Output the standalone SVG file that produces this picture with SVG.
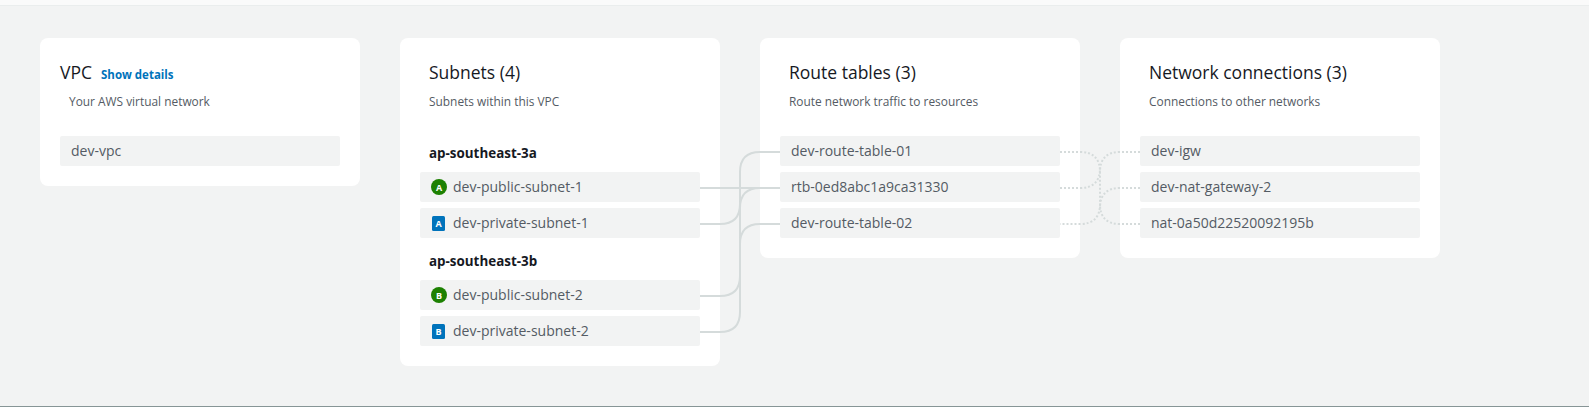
<svg xmlns="http://www.w3.org/2000/svg" width="1589" height="407" viewBox="0 0 1589 407">
<style>
text{font-family:"Open Sans","Noto Sans","Liberation Sans",sans-serif}
.card{fill:#fff}
.row{fill:#f2f3f3}
.title{font-size:17.5px;fill:#16191f}
.sub{font-size:11.9px;fill:#545b64}
.lbl{font-size:14px;fill:#545b64}
.az{font-size:13.4px;font-weight:700;fill:#16191f}
.badge{font-size:9px;font-weight:700;fill:#fff;text-anchor:middle}
.line{fill:none;stroke:#d5dbdb;stroke-width:2}
.dot{fill:none;stroke:#d5dbdb;stroke-width:2;stroke-dasharray:2 2}
</style>
<rect width="1589" height="407" fill="#f2f3f3"/>
<rect width="1589" height="5" fill="#fafafa"/>
<rect y="5" width="1589" height="1" fill="#eaeded"/>
<rect y="406" width="1589" height="1" fill="#879596"/>
<g id="vpc-card">
<rect class="card" x="40" y="38" width="320" height="148" rx="8"/>
<text class="title" x="60" y="79">VPC</text>
<text x="101" y="79" font-size="11.500" font-weight="700" fill="#0073bb">Show details</text>
<text class="sub" x="69" y="106">Your AWS virtual network</text>
</g>
<g id="dev-vpc"><rect class="row" x="60" y="136" width="280" height="30" rx="2"/><text class="lbl" x="71" y="156">dev-vpc</text></g>
<g id="subnets-card">
<rect class="card" x="400" y="38" width="320" height="328" rx="8"/>
<text class="title" x="429" y="79">Subnets (4)</text>
<text class="sub" x="429" y="106">Subnets within this VPC</text>
<text class="az" x="429" y="157.500">ap-southeast-3a</text>
<text class="az" x="429" y="265.500">ap-southeast-3b</text>
</g>
<g id="route-card">
<rect class="card" x="760" y="38" width="320" height="220" rx="8"/>
<text class="title" x="789" y="79">Route tables (3)</text>
<text class="sub" x="789" y="106">Route network traffic to resources</text>
</g>
<g id="network-card">
<rect class="card" x="1120" y="38" width="320" height="220" rx="8"/>
<text class="title" x="1149" y="79">Network connections (3)</text>
<text class="sub" x="1149" y="106">Connections to other networks</text>
</g>
<g id="connectors">
<path class="line" d="M700 188H780"/>
<path class="line" d="M780 152H760Q740 152 740 172V204Q740 224 720 224H700"/>
<path class="line" d="M780 188H760Q740 188 740 208V276Q740 296 720 296H700"/>
<path class="line" d="M780 224H760Q740 224 740 244V312Q740 332 720 332H700"/>
<path class="dot" d="M1060 152H1080Q1100 152 1100 172V204Q1100 224 1080 224H1060"/>
<path class="dot" d="M1060 188H1080Q1100 188 1100 168"/>
<path class="dot" d="M1140 152H1120Q1100 152 1100 172"/>
<path class="dot" d="M1140 188H1120Q1100 188 1100 208"/>
<path class="dot" d="M1140 224H1120Q1100 224 1100 204"/>
</g>
<g id="dev-public-subnet-1"><rect class="row" x="420" y="172" width="280" height="30" rx="2"/><circle cx="439" cy="187" r="8" fill="#1d8102"/><text class="badge" x="439" y="190.500">A</text><text class="lbl" x="453" y="192">dev-public-subnet-1</text></g>
<g id="dev-private-subnet-1"><rect class="row" x="420" y="208" width="280" height="30" rx="2"/><rect x="432" y="216" width="13" height="15" rx="1.500" fill="#0073bb"/><text class="badge" x="438.500" y="227">A</text><text class="lbl" x="453" y="228">dev-private-subnet-1</text></g>
<g id="dev-public-subnet-2"><rect class="row" x="420" y="280" width="280" height="30" rx="2"/><circle cx="439" cy="295" r="8" fill="#1d8102"/><text class="badge" x="439" y="298.500">B</text><text class="lbl" x="453" y="300">dev-public-subnet-2</text></g>
<g id="dev-private-subnet-2"><rect class="row" x="420" y="316" width="280" height="30" rx="2"/><rect x="432" y="324" width="13" height="15" rx="1.500" fill="#0073bb"/><text class="badge" x="438.500" y="335">B</text><text class="lbl" x="453" y="336">dev-private-subnet-2</text></g>
<g id="dev-route-table-01"><rect class="row" x="780" y="136" width="280" height="30" rx="2"/><text class="lbl" x="791" y="156">dev-route-table-01</text></g>
<g id="rtb-0ed8abc1a9ca31330"><rect class="row" x="780" y="172" width="280" height="30" rx="2"/><text class="lbl" x="791" y="192">rtb-0ed8abc1a9ca31330</text></g>
<g id="dev-route-table-02"><rect class="row" x="780" y="208" width="280" height="30" rx="2"/><text class="lbl" x="791" y="228">dev-route-table-02</text></g>
<g id="dev-igw"><rect class="row" x="1140" y="136" width="280" height="30" rx="2"/><text class="lbl" x="1151" y="156">dev-igw</text></g>
<g id="dev-nat-gateway-2"><rect class="row" x="1140" y="172" width="280" height="30" rx="2"/><text class="lbl" x="1151" y="192">dev-nat-gateway-2</text></g>
<g id="nat-0a50d22520092195b"><rect class="row" x="1140" y="208" width="280" height="30" rx="2"/><text class="lbl" x="1151" y="228">nat-0a50d22520092195b</text></g>
</svg>
